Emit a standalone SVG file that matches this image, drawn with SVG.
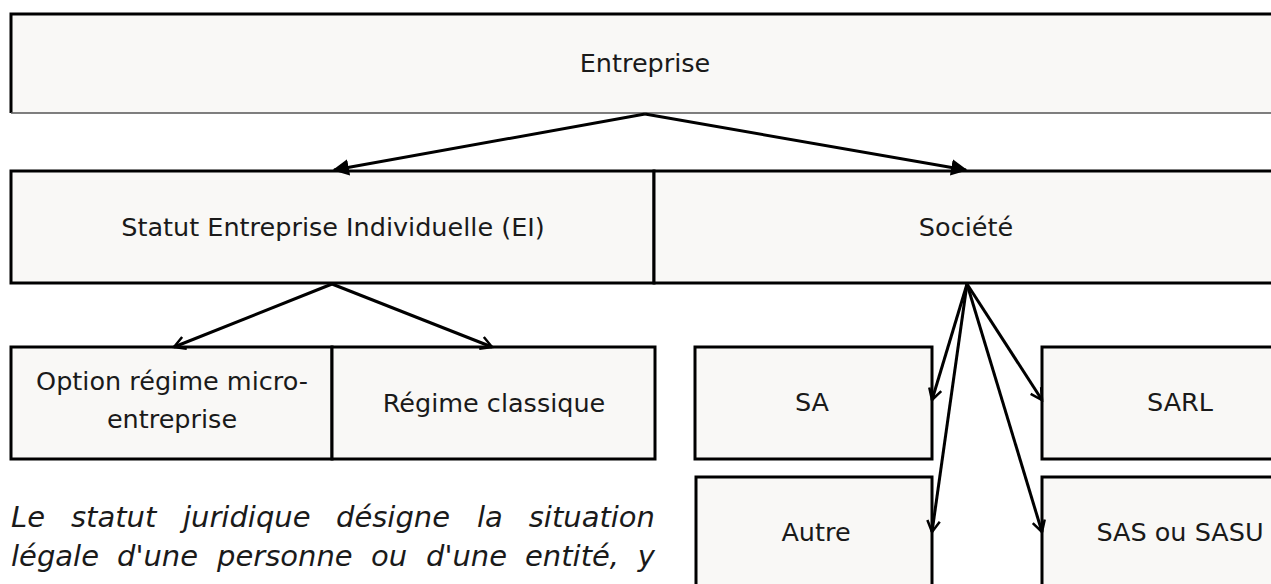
<svg xmlns="http://www.w3.org/2000/svg" width="1271" height="584" viewBox="0 0 1271 584">
<style>
.box{fill:#f9f8f6;stroke:#000;stroke-width:3}
.lbl{font-family:"DejaVu Sans","Liberation Sans",sans-serif;font-size:25.5px;fill:#1a1a1a;text-anchor:middle;dominant-baseline:central}
.con{stroke:#000;stroke-width:3;fill:none}
.para{font-family:"DejaVu Sans","Liberation Sans",sans-serif;font-style:italic;font-size:29px;fill:#1a1a1a}
</style>
<defs>
<marker id="tri" viewBox="0 0 10 10" refX="9" refY="5" markerWidth="5.5" markerHeight="5.5" markerUnits="strokeWidth" orient="auto">
<path d="M0,0 L10,5 L0,10 z" fill="#000"/>
</marker>
<marker id="chev" viewBox="0 0 12 12" refX="10" refY="6" markerWidth="5" markerHeight="5" markerUnits="strokeWidth" orient="auto">
<path d="M1,1 L10,6 L1,11" fill="none" stroke="#000" stroke-width="2"/>
</marker>
</defs>
<rect width="1271" height="584" fill="#fff"/>
<g id="node-entreprise">
<rect x="11" y="14" width="1270" height="99" fill="#f9f8f6"/>
<path d="M1281,14 H11 V113" fill="none" stroke="#000" stroke-width="3"/>
<line x1="11" y1="113" x2="1281" y2="113" stroke="#555" stroke-width="1.5"/>
<text class="lbl" x="645" y="63">Entreprise</text>
</g>
<g id="node-ei">
<rect class="box" x="11" y="171" width="643" height="112"/>
<text class="lbl" x="333" y="227">Statut Entreprise Individuelle (EI)</text>
</g>
<g id="node-societe">
<rect class="box" x="654" y="171" width="630" height="112"/>
<text class="lbl" x="966" y="227">Société</text>
</g>
<g id="node-micro">
<rect class="box" x="11" y="347" width="321" height="112"/>
<text class="lbl" x="172" y="381">Option régime micro-</text>
<text class="lbl" x="172" y="419">entreprise</text>
</g>
<g id="node-classique">
<rect class="box" x="332" y="347" width="323" height="112"/>
<text class="lbl" x="494" y="403">Régime classique</text>
</g>
<g id="node-sa">
<rect class="box" x="695" y="347" width="237" height="112"/>
<text class="lbl" x="812" y="402">SA</text>
</g>
<g id="node-sarl">
<rect class="box" x="1042" y="347" width="240" height="112"/>
<text class="lbl" x="1180" y="402">SARL</text>
</g>
<g id="node-autre">
<rect class="box" x="696" y="477" width="236" height="120"/>
<text class="lbl" x="816" y="532">Autre</text>
</g>
<g id="node-sas">
<rect class="box" x="1042" y="477" width="240" height="120"/>
<text class="lbl" x="1180" y="532">SAS ou SASU</text>
</g>
<g id="connectors">
<line class="con" x1="645" y1="114" x2="334" y2="170" marker-end="url(#tri)"/>
<line class="con" x1="645" y1="114" x2="966" y2="170" marker-end="url(#tri)"/>
<line class="con" x1="332" y1="284" x2="174" y2="347" marker-end="url(#chev)"/>
<line class="con" x1="332" y1="284" x2="492" y2="347" marker-end="url(#chev)"/>
<line class="con" x1="967" y1="284" x2="932" y2="400" marker-end="url(#chev)"/>
<line class="con" x1="967" y1="284" x2="932" y2="532" marker-end="url(#chev)"/>
<line class="con" x1="967" y1="284" x2="1042" y2="400" marker-end="url(#chev)"/>
<line class="con" x1="967" y1="284" x2="1042" y2="532" marker-end="url(#chev)"/>
</g>
<g id="paragraph" class="para">
<text y="527"><tspan x="11">Le</tspan><tspan x="71">statut</tspan><tspan x="183">juridique</tspan><tspan x="336">désigne</tspan><tspan x="477">la</tspan><tspan x="655" text-anchor="end">situation</tspan></text>
<text y="566"><tspan x="11">légale</tspan><tspan x="117">d'une</tspan><tspan x="217">personne</tspan><tspan x="371">ou</tspan><tspan x="426">d'une</tspan><tspan x="525">entité,</tspan><tspan x="655" text-anchor="end">y</tspan></text>
</g>
</svg>
